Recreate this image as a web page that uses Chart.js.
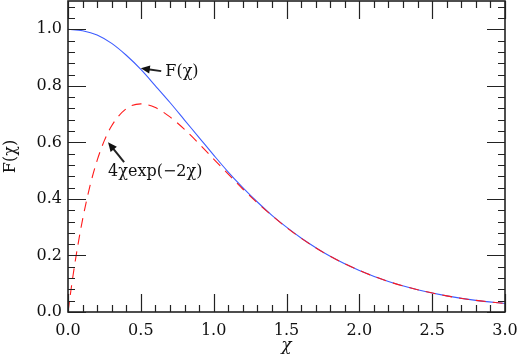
<!DOCTYPE html>
<html lang="en">
<head>
    <meta charset="UTF-8">
    <title>F(χ)</title>
    <script src="https://cdn.jsdelivr.net/npm/chart.js"></script>
    <style>
        html, body { margin: 0; padding: 0; background: #fff; }
        .box { width: 517px; height: 360px; }
    </style>
</head>
<body>
    <div class="box"><canvas id="myChart"></canvas></div>
<script>
    // values
    const xF = [0, 0.1, 0.2, 0.3, 0.4, 0.5, 0.6, 0.7, 0.8, 0.9, 1.0, 1.1, 1.2, 1.3, 1.4, 1.5, 1.6, 1.8, 2.0, 2.2, 2.4, 2.6, 2.8, 3.0];
    const yF = [1.0, 0.995, 0.98, 0.95, 0.908, 0.858, 0.80, 0.741, 0.679, 0.617, 0.555, 0.495, 0.440, 0.389, 0.342, 0.300, 0.262, 0.197, 0.147, 0.108, 0.079, 0.057, 0.041, 0.030];

    const xApprox = [0, 0.025, 0.05, 0.1, 0.15, 0.2, 0.25, 0.3, 0.4, 0.5, 0.6, 0.7, 0.8, 0.9, 1.0, 1.1, 1.2, 1.3, 1.4, 1.5, 1.6, 1.8, 2.0, 2.2, 2.4, 2.6, 2.8, 3.0];
    const yApprox = [0, 0.095, 0.181, 0.327, 0.444, 0.536, 0.607, 0.659, 0.719, 0.736, 0.723, 0.690, 0.646, 0.595, 0.541, 0.488, 0.435, 0.386, 0.341, 0.299, 0.261, 0.197, 0.147, 0.108, 0.079, 0.057, 0.041, 0.030];

    const xTickValues = [0, 0.5, 1.0, 1.5, 2.0, 2.5, 3.0];
    const yTickValues = [0, 0.2, 0.4, 0.6, 0.8, 1.0];

    const labels = [
        { text: 'F(χ)', tip: [0.50, 0.862], tail: [0.64, 0.852], at: [0.668, 0.851] },
        { text: '4χexp(−2χ)', tip: [0.275, 0.60], tail: [0.385, 0.53], at: [0.275, 0.495] }
    ];

    const fonte = '"DejaVu Serif", serif';

    function pts(xs, ys) {
        return xs.map((x, i) => ({ x: x, y: ys[i] }));
    }

    function seta(ctx, x1, y1, x2, y2) {
        const a = Math.atan2(y2 - y1, x2 - x1);
        const len = 9, w = 4;
        ctx.beginPath();
        ctx.moveTo(x1, y1);
        ctx.lineTo(x2 - Math.cos(a) * len * 0.8, y2 - Math.sin(a) * len * 0.8);
        ctx.lineWidth = 2;
        ctx.stroke();
        ctx.beginPath();
        ctx.moveTo(x2, y2);
        ctx.lineTo(x2 - Math.cos(a) * len - Math.sin(a) * w, y2 - Math.sin(a) * len + Math.cos(a) * w);
        ctx.lineTo(x2 - Math.cos(a) * len + Math.sin(a) * w, y2 - Math.sin(a) * len - Math.cos(a) * w);
        ctx.closePath();
        ctx.fill();
    }

    const moldura = {
        id: 'moldura',
        afterDatasetsDraw(chart) {
            const ctx = chart.ctx;
            const a = chart.chartArea;
            const sx = chart.scales.x, sy = chart.scales.y;
            ctx.save();
            ctx.strokeStyle = '#222';
            ctx.fillStyle = '#111';
            ctx.lineWidth = 1.2;
            ctx.beginPath();
            for (let i = 0; i <= 30; i++) {
                const px = Math.round(sx.getPixelForValue(i / 10)) + 0.5;
                const l = i % 5 == 0 ? 18 : 7;
                ctx.moveTo(px, a.bottom); ctx.lineTo(px, a.bottom - l);
                ctx.moveTo(px, a.top); ctx.lineTo(px, a.top + l);
            }
            for (let i = 0; i <= 27; i++) {
                const py = Math.round(sy.getPixelForValue(i * 0.04)) + 0.5;
                const l = i % 5 == 0 ? 18 : 7;
                ctx.moveTo(a.left, py); ctx.lineTo(a.left + l, py);
                ctx.moveTo(a.right, py); ctx.lineTo(a.right - l, py);
            }
            ctx.stroke();
            ctx.lineWidth = 1.6;
            ctx.strokeRect(a.left, a.top, a.right - a.left, a.bottom - a.top);

            ctx.font = '16px ' + fonte;
            ctx.textBaseline = 'middle';
            ctx.textAlign = 'left';
            labels.forEach((lb) => {
                seta(ctx, sx.getPixelForValue(lb.tail[0]), sy.getPixelForValue(lb.tail[1]),
                    sx.getPixelForValue(lb.tip[0]), sy.getPixelForValue(lb.tip[1]));
                ctx.fillText(lb.text, sx.getPixelForValue(lb.at[0]), sy.getPixelForValue(lb.at[1]));
            });
            ctx.restore();
        }
    };

    var ctx = document.getElementById('myChart').getContext('2d');
    var myChart = new Chart(ctx, {
        type: 'scatter',
        data: {
            datasets: [{
                label: '4χexp(−2χ)',
                data: pts(xApprox, yApprox),
                showLine: true,
                borderColor: '#ff1a1a',
                borderWidth: 1.1,
                borderDash: [10, 7],
                pointRadius: 0,
                cubicInterpolationMode: 'monotone',
                order: 0
            }, {
                label: 'F(χ)',
                data: pts(xF, yF),
                showLine: true,
                borderColor: '#3d5cff',
                borderWidth: 1.1,
                pointRadius: 0,
                cubicInterpolationMode: 'monotone',
                order: 1
            }]
        },
        options: {
            responsive: true,
            maintainAspectRatio: false,
            animation: false,
            layout: { padding: { top: 1, right: 12, left: 0, bottom: 0 } },
            plugins: { legend: { display: false }, tooltip: { enabled: false } },
            scales: {
                x: {
                    type: 'linear', min: 0, max: 3,
                    grid: { display: false, drawTicks: false },
                    border: { display: false },
                    afterBuildTicks: (s) => { s.ticks = xTickValues.map(v => ({ value: v })); },
                    afterFit: (s) => { s.height = 48; s.paddingLeft = 0; s.paddingRight = 0; },
                    ticks: {
                        padding: 9, color: '#111', maxRotation: 0,
                        font: { family: fonte, size: 16 },
                        callback: (v) => Number(v).toFixed(1)
                    },
                    title: {
                        display: true, text: 'χ', color: '#111',
                        font: { family: fonte, size: 17, style: 'italic' },
                        padding: { top: 0, bottom: 4 }
                    }
                },
                y: {
                    type: 'linear', min: 0, max: 1.1,
                    grid: { display: false, drawTicks: false },
                    border: { display: false },
                    afterBuildTicks: (s) => { s.ticks = yTickValues.map(v => ({ value: v })); },
                    afterFit: (s) => { s.width = 68; s.paddingTop = 0; s.paddingBottom = 0; },
                    ticks: {
                        padding: 6, color: '#111',
                        font: { family: fonte, size: 16 },
                        callback: (v) => Number(v).toFixed(1)
                    },
                    title: {
                        display: true, text: 'F(χ)', color: '#111',
                        font: { family: fonte, size: 16 },
                        padding: { top: 1, bottom: 0 }
                    }
                }
            }
        },
        plugins: [moldura]
    });
</script>
</body>
</html>
